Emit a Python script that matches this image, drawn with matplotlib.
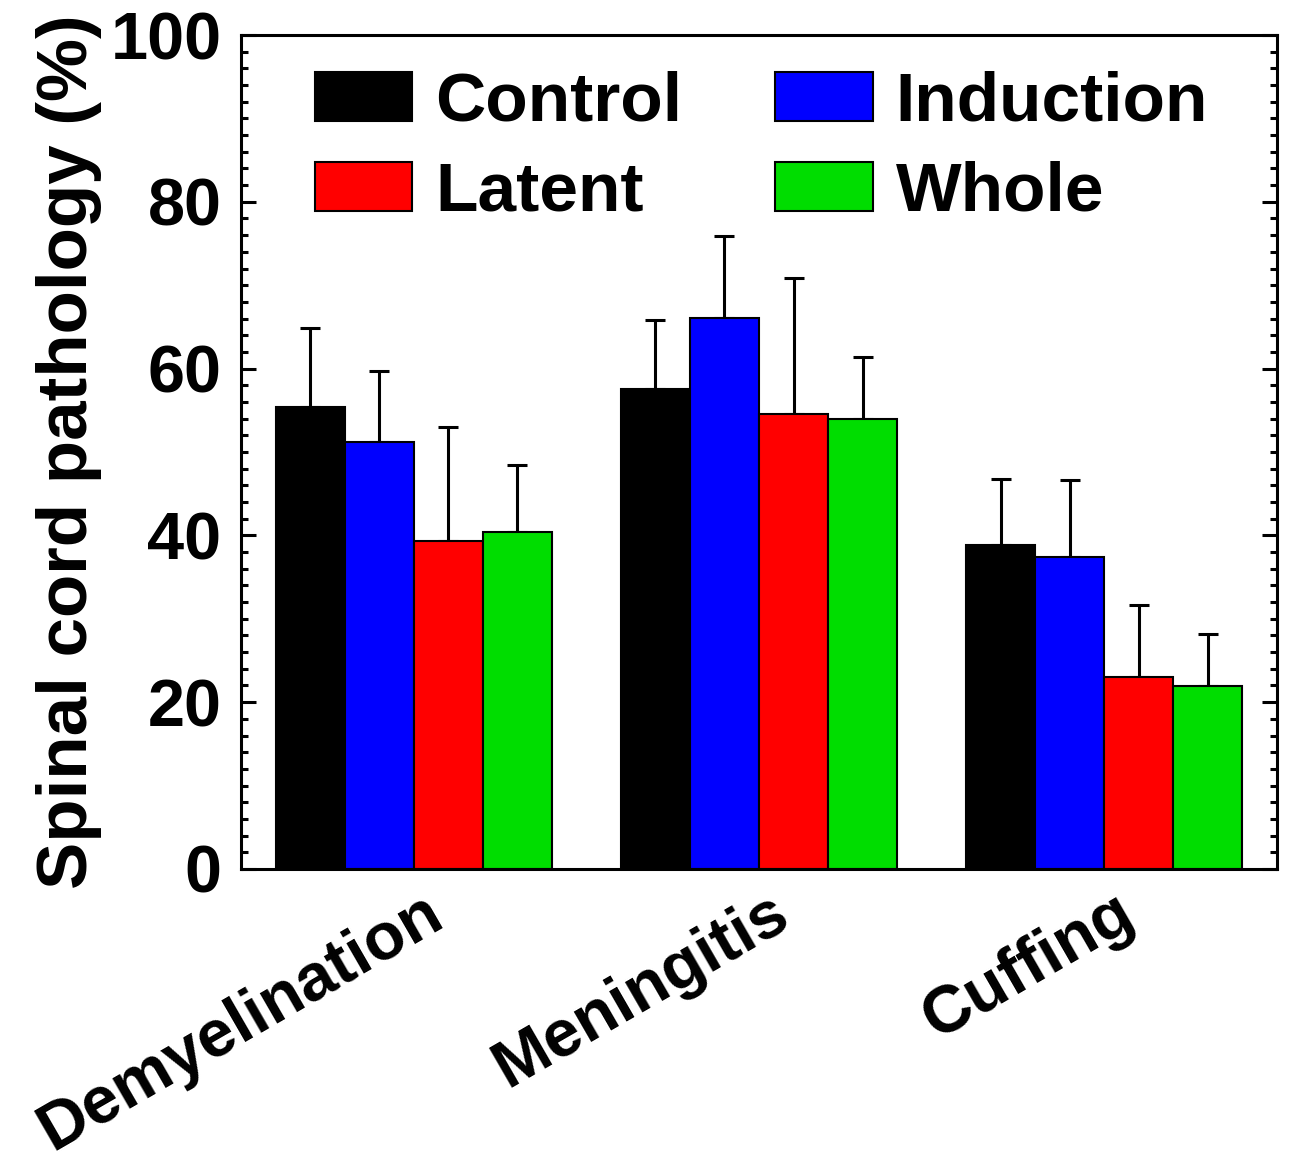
import matplotlib
matplotlib.use("Agg")
import matplotlib.pyplot as plt
import matplotlib.transforms as mtransforms
import numpy as np

plt.rcParams['font.family'] = ['Liberation Sans', 'DejaVu Sans']
plt.rcParams['font.weight'] = 'bold'

# pathology scores per group, upper error only
categories = ["Demyelination", "Meningitis", "Cuffing"]
groups = ["Control", "Induction", "Latent", "Whole"]
colors = ["#000000", "#0000FF", "#FF0000", "#00DD00"]

control = [55.4, 57.6, 38.8]
induction = [51.2, 66.1, 37.4]
latent = [39.3, 54.6, 23.0]
whole = [40.4, 53.9, 21.9]

control_err = [9.5, 8.2, 8.0]
induction_err = [8.5, 9.8, 9.2]
latent_err = [13.7, 16.3, 8.7]
whole_err = [8.0, 7.5, 6.3]

values = [control, induction, latent, whole]
errors = [control_err, induction_err, latent_err, whole_err]

fig = plt.figure(figsize=(13.05, 11.67), dpi=100)
ax = fig.add_axes([0.1847, 0.2554, 0.7938, 0.7146])

x = np.arange(len(categories))
w = 0.2
bars = []
for i, (vals, errs) in enumerate(zip(values, errors)):
    pos = x - 0.3 + i * w
    b = ax.bar(pos, vals, w, color=colors[i], edgecolor='black', linewidth=1.5,
               label=groups[i], zorder=2)
    bars.append(b)
    ax.errorbar(pos, vals, yerr=[np.zeros(len(errs)), errs], fmt='none',
                ecolor='black', elinewidth=2.2, capsize=7, capthick=2.2, zorder=1)

ax.set_xlim(-0.5, 2.5)
ax.set_ylim(0, 100)
ax.set_yticks(np.arange(0, 101, 20))
ax.set_yticks(np.arange(0, 101, 2), minor=True)
ax.tick_params(axis='y', which='both', direction='in', left=True, right=True,
               width=2.2, labelsize=48, pad=14)
ax.tick_params(axis='y', which='major', length=11)
ax.tick_params(axis='y', which='minor', length=5)
ax.set_xticks(x)
ax.set_xticklabels([])
ax.tick_params(axis='x', length=0)
for s in ax.spines.values():
    s.set_linewidth(2.2)

# rotated category names below the axis
off = mtransforms.ScaledTranslation(24 / 72, -39 / 72, fig.dpi_scale_trans)
for xi, name in zip(x, categories):
    ax.text(xi, 0, name, transform=ax.get_xaxis_transform() + off,
            rotation=30, rotation_mode='anchor', ha='right', va='baseline',
            fontsize=48, fontweight='bold')

ax.set_ylabel("Spinal cord pathology (%)", fontsize=51, fontweight='bold')
ax.yaxis.set_label_coords(-0.134, 0.5)

# legend rows: Control/Induction, Latent/Whole
order = [0, 2, 1, 3]
ax.legend([bars[k] for k in order], [groups[k] for k in order], ncol=2,
          loc='upper left', bbox_to_anchor=(0.071, 0.957),
          frameon=False, fontsize=50, handlelength=1.41, handleheight=0.70,
          handletextpad=0.33, columnspacing=1.33, labelspacing=0.37,
          borderaxespad=0, borderpad=0)

fig.savefig("out.png", dpi=100)
